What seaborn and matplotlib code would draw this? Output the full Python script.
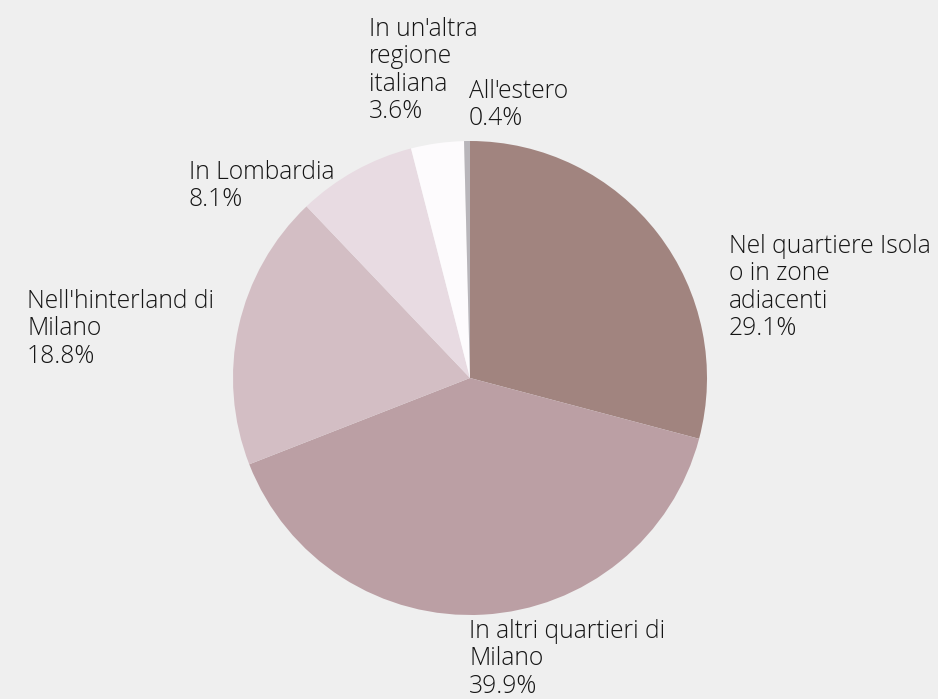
import matplotlib
matplotlib.use("Agg")
import matplotlib.pyplot as plt
import seaborn as sns

categories = [
    "Nel quartiere Isola\no in zone\nadiacenti",
    "In altri quartieri di\nMilano",
    "Nell'hinterland di\nMilano",
    "In Lombardia",
    "In un'altra\nregione\nitaliana",
    "All'estero",
]
values = [29.1, 39.9, 18.8, 8.1, 3.6, 0.4]
value_labels = ["29.1%", "39.9%", "18.8%", "8.1%", "3.6%", "0.4%"]
colors = ["#a1847f", "#bb9fa4", "#d3bec4", "#e8dbe2", "#fdfbfd", "#b8b5ba"]

# label anchor positions (pixels, top-left of text block)
label_pos = [(729, 234), (469, 619), (27, 289), (189, 160), (369, 17), (469, 79)]

sns.set_style("white")
plt.rcParams["font.family"] = ["Open Sans", "DejaVu Sans"]

W, H = 938, 699
fig = plt.figure(figsize=(W / 100, H / 100), dpi=100)
fig.patch.set_facecolor("#efefef")
ax = fig.add_axes([0, 0, 1, 1])
ax.set_facecolor("#efefef")

cx, cy, r = 470, 378, 237
ax.pie(values, colors=colors, startangle=90, counterclock=False,
       center=(cx, H - cy), radius=r, frame=True,
       wedgeprops=dict(linewidth=0))
ax.set_xlim(0, W)
ax.set_ylim(0, H)
ax.set_aspect("equal")
ax.axis("off")

for cat, vl, (px, py) in zip(categories, value_labels, label_pos):
    ax.text(px, H - py, cat + "\n" + vl, ha="left", va="top",
            fontsize=17.7, color="#151515", fontweight="light",
            linespacing=1.13)

fig.savefig("out.png", dpi=100, facecolor=fig.get_facecolor())
